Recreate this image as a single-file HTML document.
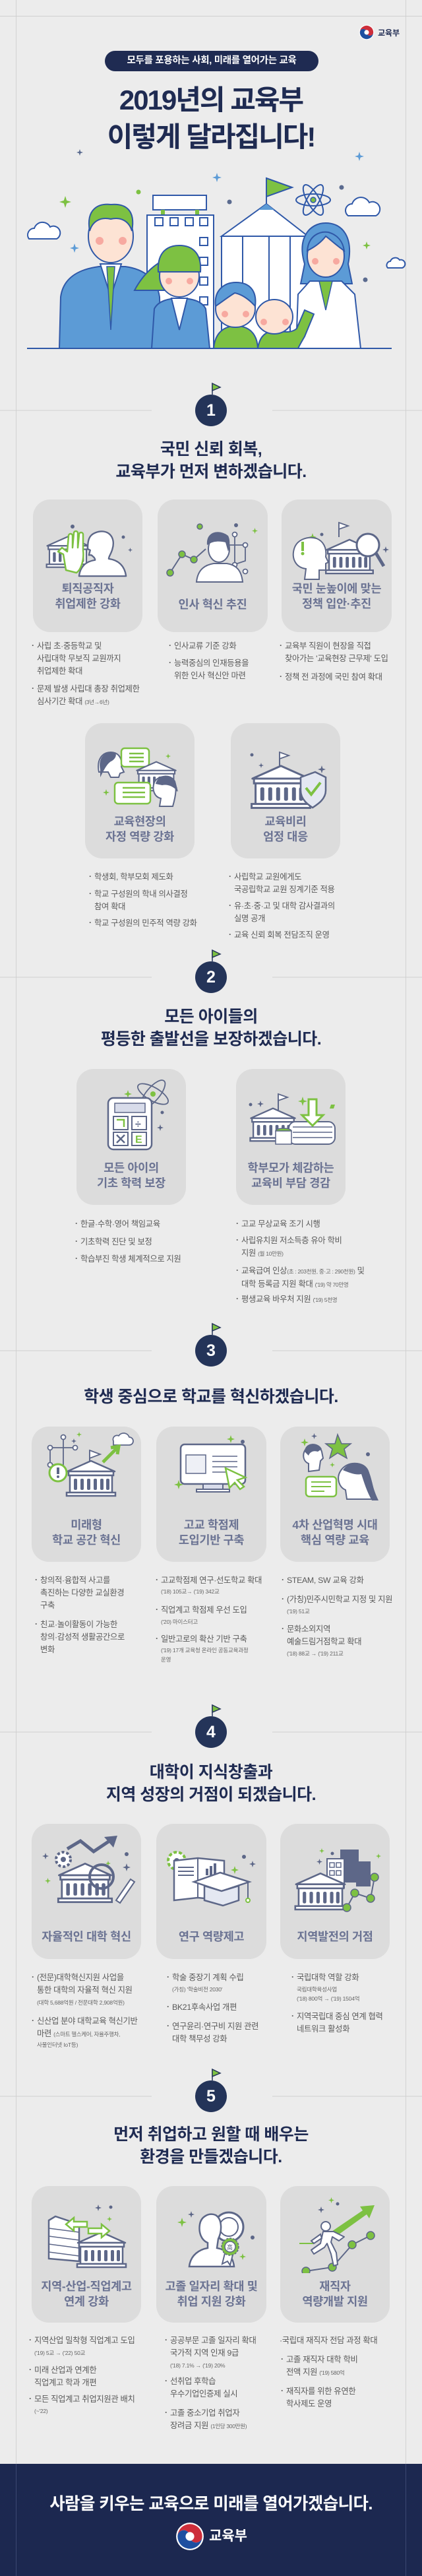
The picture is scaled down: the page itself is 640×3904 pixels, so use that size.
<!DOCTYPE html>
<html><head><meta charset="utf-8">
<style>
*{margin:0;padding:0;box-sizing:border-box}
body{width:640px;height:3904px;background:#ececec;position:relative;overflow:hidden;font-family:"Liberation Sans","Noto Sans CJK KR",sans-serif}
.a{position:absolute}
.vl{position:absolute;top:0;width:1px;height:3904px;background:#d2d2d2}
.hl{position:absolute;height:1px;background:#cfcfcf}
.st{position:absolute;left:0;width:640px;text-align:center;color:#1f2b52;font-weight:bold;font-size:25px;line-height:34px;letter-spacing:-0.5px}
.card{position:absolute;background:#dcdcdc;border-radius:26px}
.ct{position:absolute;text-align:center;color:#6b7393;font-weight:bold;font-size:17.5px;line-height:23px;letter-spacing:-0.3px}
.b{position:absolute;font-size:12.3px;line-height:19px;color:#5a5a5a;padding-left:8px;white-space:nowrap;letter-spacing:-0.3px}
.b::before{content:"·";position:absolute;left:0;top:-1px;font-weight:bold}
.nb::before{content:none}
.s{font-size:8.5px;color:#666;line-height:14px;white-space:nowrap;position:absolute;letter-spacing:-0.2px}
small{font-size:8.5px;color:#666}
.badge{position:absolute;left:296px;width:48px;height:48px;border-radius:50%;background:#243459;color:#fff;font-weight:bold;font-size:25px;line-height:48px;text-align:center}
.icon{position:absolute}
</style></head><body>
<svg width="0" height="0" style="position:absolute">
<defs>
<symbol id="bld" viewBox="0 0 80 60"><path d="M4 20 L40 4 L76 20 Z" fill="#fff" stroke="#5d6788" stroke-width="2.5" stroke-linejoin="round"/><rect x="6" y="20" width="68" height="6" fill="#fff" stroke="#5d6788" stroke-width="2.5"/><rect x="8" y="26" width="64" height="26" fill="#fff" stroke="#5d6788" stroke-width="2.5"/><g fill="#5d6788"><rect x="14" y="31" width="5" height="17" rx="2"/><rect x="24" y="31" width="5" height="17" rx="2"/><rect x="34" y="31" width="5" height="17" rx="2"/><rect x="44" y="31" width="5" height="17" rx="2"/><rect x="54" y="31" width="5" height="17" rx="2"/><rect x="63" y="31" width="5" height="17" rx="2"/></g><rect x="3" y="52" width="74" height="5" fill="#fff" stroke="#5d6788" stroke-width="2.5"/></symbol>
<symbol id="head" viewBox="0 0 80 80"><path d="M28 8 C48 0 62 14 56 34 C54 42 50 46 50 50 C66 52 76 62 78 78 L2 78 C4 62 14 54 28 52 C28 48 24 46 22 44 L18 44 L20 36 L16 34 C16 20 18 12 28 8 Z" fill="#fff" stroke="#5d6788" stroke-width="2.5" stroke-linejoin="round"/></symbol>
<symbol id="sp" viewBox="0 0 10 10"><path d="M5 0 L6.2 3.8 L10 5 L6.2 6.2 L5 10 L3.8 6.2 L0 5 L3.8 3.8 Z"/></symbol>
<symbol id="tg" viewBox="0 0 40 40"><circle cx="20" cy="20" r="19" fill="#fff"/><path d="M3 20 A17 17 0 0 1 37 20 A8.5 8.5 0 0 1 20 20 A8.5 8.5 0 0 0 3 20 Z" fill="#cd2e3a"/><path d="M3 20 A17 17 0 0 0 37 20 A8.5 8.5 0 0 1 20 20 A8.5 8.5 0 0 0 3 20 Z" fill="#1e4fa0"/><circle cx="20" cy="20" r="6" fill="#fff"/></symbol>
</defs></svg>

<!-- frame lines -->
<div class="vl" style="left:24px"></div>
<div class="vl" style="left:615px"></div>
<div class="hl" style="left:0;top:24px;width:640px"></div>

<!-- header logo -->
<svg class="a" style="left:544px;top:37px" width="24" height="24"><use href="#tg" width="24" height="24"/></svg>
<div class="a" style="left:573px;top:41px;font-size:12px;font-weight:bold;color:#1f2b52">교육부</div>

<div class="a" style="left:159px;top:77px;width:324px;height:31px;border-radius:16px;background:#1f2b52;color:#fff;font-weight:bold;font-size:14.5px;line-height:31px;text-align:center;letter-spacing:-0.3px">모두를 포용하는 사회, 미래를 열어가는 교육</div>
<div class="a" style="left:0;top:124px;width:640px;text-align:center;color:#1f2b52;font-weight:bold;font-size:42px;line-height:56px;letter-spacing:-2px">2019년의 교육부<br>이렇게 달라집니다!</div>

<!-- hero illustration -->
<svg class="a" style="left:0;top:0" width="640" height="540">
<g fill="#5b6b8f"><use href="#sp" x="116" y="226" width="10" height="10"/></g>
<g fill="#5c9bd6"><use href="#sp" x="538" y="230" width="14" height="14"/><use href="#sp" x="322" y="262" width="14" height="14"/><use href="#sp" x="106" y="369" width="14" height="14"/></g>
<g fill="#7dc142"><use href="#sp" x="90" y="297" width="18" height="18"/><use href="#sp" x="550" y="366" width="12" height="12"/></g>
<circle cx="210" cy="291" r="3.5" fill="#7dc142"/><circle cx="348" cy="306" r="3.5" fill="#5b6b8f"/><circle cx="518" cy="284" r="3.5" fill="#5b6b8f"/><circle cx="554" cy="424" r="3.5" fill="#5b6b8f"/>
<g fill="#fff" stroke="#2f58a8" stroke-width="2"><path d="M44 362 a10 10 0 0 1 8 -16 a13 13 0 0 1 24 -2 a10 10 0 0 1 10 18 Z"/><path d="M528 327 a10 10 0 0 1 6 -18 a14 14 0 0 1 26 -2 a11 11 0 0 1 10 20 Z"/><path d="M588 406 a6 6 0 0 1 4 -10 a8 8 0 0 1 14 -2 a6 6 0 0 1 4 12 Z"/></g>
<!-- building left -->
<rect x="232" y="296" width="81" height="22" fill="#fff" stroke="#2f58a8" stroke-width="2"/>
<rect x="244" y="318" width="6" height="8" fill="#7dc142"/><rect x="296" y="318" width="6" height="8" fill="#7dc142"/>
<rect x="223" y="326" width="101" height="202" fill="#fff" stroke="#2f58a8" stroke-width="2"/>
<g fill="none" stroke="#2f58a8" stroke-width="2"><rect x="235" y="330" width="12" height="12"/><rect x="258" y="330" width="12" height="12"/><rect x="281" y="330" width="12" height="12"/><rect x="303" y="330" width="12" height="12"/><rect x="303" y="360" width="12" height="12"/><rect x="303" y="390" width="12" height="12"/><rect x="303" y="420" width="12" height="12"/><rect x="303" y="450" width="12" height="12"/></g>
<!-- right building -->
<path d="M336 358 L404 309 L467 358 Z" fill="#fff" stroke="#2f58a8" stroke-width="2"/>
<path d="M392 318 L404 309 L416 318 Z" fill="#5c9bd6"/>
<rect x="336" y="358" width="131" height="170" fill="#fff" stroke="#2f58a8" stroke-width="2"/>
<g stroke="#2f58a8" stroke-width="2"><line x1="368" y1="358" x2="368" y2="528"/><line x1="408" y1="358" x2="408" y2="528"/><line x1="440" y1="358" x2="440" y2="528"/><line x1="404" y1="309" x2="404" y2="270"/></g>
<path d="M404 270 L443 284 L404 298 Z" fill="#7dc142" stroke="#2f58a8" stroke-width="2"/>
<g fill="none" stroke="#2f58a8" stroke-width="2"><ellipse cx="475" cy="303" rx="26" ry="9"/><ellipse cx="475" cy="303" rx="26" ry="9" transform="rotate(60 475 303)"/><ellipse cx="475" cy="303" rx="26" ry="9" transform="rotate(-60 475 303)"/></g><circle cx="475" cy="303" r="4" fill="#7dc142" stroke="#2f58a8" stroke-width="1.5"/>
<!-- woman -->
<path d="M462 400 C450 360 470 338 494 338 C520 338 536 360 528 400 L534 430 L456 430 Z" fill="#5c9bd6" stroke="#2f58a8" stroke-width="2"/>
<path d="M449 528 L452 446 L470 426 L518 426 L538 446 L547 528 Z" fill="#fff" stroke="#2f58a8" stroke-width="2"/>
<path d="M484 426 L494 470 L504 426 Z" fill="#7dc142" stroke="#2f58a8" stroke-width="1.5"/>
<ellipse cx="494" cy="388" rx="28" ry="32" fill="#fde3d4" stroke="#2f58a8" stroke-width="2"/>
<path d="M466 380 C468 356 486 350 498 352 C512 356 520 366 522 380 C510 372 500 362 494 358 C488 366 478 374 466 380Z" fill="#5c9bd6" stroke="#2f58a8" stroke-width="2"/>
<circle cx="478" cy="396" r="5" fill="#f7a9a0"/><circle cx="510" cy="396" r="5" fill="#f7a9a0"/>
<!-- man -->
<path d="M90 528 L92 450 C96 420 120 408 150 404 L190 404 C220 408 238 424 242 450 L244 528 Z" fill="#5c9bd6" stroke="#2f58a8" stroke-width="2"/>
<path d="M152 400 L168 450 L184 400 Z" fill="#fff" stroke="#2f58a8" stroke-width="2"/>
<path d="M162 404 L168 500 L174 404 Z" fill="#7dc142" stroke="#2f58a8" stroke-width="1.5"/>
<ellipse cx="168" cy="358" rx="34" ry="40" fill="#fde3d4" stroke="#2f58a8" stroke-width="2"/>
<path d="M136 350 C130 316 150 308 168 310 C190 308 206 318 200 350 C196 336 184 328 168 332 C152 328 140 336 136 350Z" fill="#7dc142" stroke="#2f58a8" stroke-width="2"/>
<circle cx="151" cy="365" r="6" fill="#f7a9a0"/><circle cx="186" cy="365" r="6" fill="#f7a9a0"/>
<!-- girl -->
<path d="M204 440 C220 410 240 398 252 392 L260 440 Z" fill="#7dc142" stroke="#2f58a8" stroke-width="2"/>
<path d="M230 528 L234 468 C240 456 256 452 272 452 C290 452 306 456 312 468 L318 528 Z" fill="#5c9bd6" stroke="#2f58a8" stroke-width="2"/>
<path d="M260 452 L272 500 L284 452 Z" fill="#fff" stroke="#2f58a8" stroke-width="2"/>
<ellipse cx="272" cy="418" rx="30" ry="32" fill="#fde3d4" stroke="#2f58a8" stroke-width="2"/>
<path d="M240 412 C238 380 256 372 272 372 C292 372 306 384 304 412 L240 412Z" fill="#7dc142" stroke="#2f58a8" stroke-width="2"/>
<circle cx="256" cy="426" r="5" fill="#f7a9a0"/><circle cx="288" cy="426" r="5" fill="#f7a9a0"/>
<!-- boy -->
<path d="M324 528 C326 504 340 494 358 494 C376 494 390 504 391 528 Z" fill="#7dc142" stroke="#2f58a8" stroke-width="2"/>
<ellipse cx="357" cy="468" rx="30" ry="28" fill="#fde3d4" stroke="#2f58a8" stroke-width="2"/>
<path d="M327 464 C324 440 340 428 358 428 C378 428 390 440 387 464 C376 452 366 446 356 444 C346 450 336 458 327 464Z" fill="#5c9bd6" stroke="#2f58a8" stroke-width="2"/>
<circle cx="341" cy="476" r="5" fill="#f7a9a0"/><circle cx="373" cy="476" r="5" fill="#f7a9a0"/>
<!-- baby -->
<path d="M391 528 C394 508 404 502 416 502 C430 502 440 506 450 498 L462 470 L476 476 L462 510 C456 520 452 528 452 528 Z" fill="#7dc142" stroke="#2f58a8" stroke-width="2"/>
<ellipse cx="416" cy="480" rx="28" ry="26" fill="#fde3d4" stroke="#2f58a8" stroke-width="2"/>
<circle cx="400" cy="488" r="5" fill="#f7a9a0"/><circle cx="433" cy="488" r="5" fill="#f7a9a0"/>
<line x1="41" y1="528" x2="594" y2="528" stroke="#2f58a8" stroke-width="2"/>
</svg>

<!-- badge helper lines & flags -->
<svg class="a" style="left:0;top:0" width="640" height="3904">
<g stroke="#cfcfcf" stroke-width="1">
<line x1="0" y1="622" x2="230" y2="622"/><line x1="413" y1="622" x2="640" y2="622"/>
<line x1="0" y1="1481" x2="230" y2="1481"/><line x1="413" y1="1481" x2="640" y2="1481"/>
<line x1="0" y1="2047" x2="230" y2="2047"/><line x1="413" y1="2047" x2="640" y2="2047"/>
<line x1="0" y1="2625" x2="230" y2="2625"/><line x1="413" y1="2625" x2="640" y2="2625"/>
<line x1="0" y1="3177" x2="230" y2="3177"/><line x1="413" y1="3177" x2="640" y2="3177"/>
</g>
<g stroke="#243459" stroke-width="1.5" fill="#7dc142">
<line x1="322" y1="598" x2="322" y2="581"/><path d="M322 581 L334 587 L322 592Z"/>
<line x1="322" y1="1457" x2="322" y2="1440"/><path d="M322 1440 L334 1446 L322 1451Z"/>
<line x1="322" y1="2023" x2="322" y2="2006"/><path d="M322 2006 L334 2012 L322 2017Z"/>
<line x1="322" y1="2601" x2="322" y2="2584"/><path d="M322 2584 L334 2590 L322 2595Z"/>
<line x1="322" y1="3153" x2="322" y2="3136"/><path d="M322 3136 L334 3142 L322 3147Z"/>
</g>
</svg>
<div class="badge" style="top:598px">1</div>
<div class="badge" style="top:1457px">2</div>
<div class="badge" style="top:2023px">3</div>
<div class="badge" style="top:2601px">4</div>
<div class="badge" style="top:3153px">5</div>

<!-- SECTION 1 -->
<div class="st" style="top:664px">국민 신뢰 회복,<br>교육부가 먼저 변하겠습니다.</div>
<div class="card" style="left:50px;top:757px;width:166px;height:201px"></div>
<div class="card" style="left:239px;top:757px;width:167px;height:201px"></div>
<div class="card" style="left:427px;top:757px;width:167px;height:201px"></div>
<svg class="icon" style="left:66px;top:790px" width="135" height="85">
<circle cx="44" cy="8" r="3" fill="#5d6788"/><circle cx="121" cy="24" r="2.5" fill="#5d6788"/><use href="#sp" x="128" y="40" width="7" height="7" fill="#5d6788"/>
<use href="#bld" x="2" y="18" width="70" height="56"/>
<use href="#head" x="52" y="10" width="75" height="75"/>
<path d="M34 74 L30 50 L22 46 L28 40 L36 46 L38 22 C38 18 44 18 44 22 L44 40 L46 18 C46 14 52 14 52 18 L52 40 L54 20 C54 16 60 16 60 20 L60 44 C62 60 56 74 50 78 Z" fill="#fff" stroke="#7dc142" stroke-width="2.5" stroke-linejoin="round"/>
</svg>
<svg class="icon" style="left:248px;top:790px" width="150" height="100">
<polyline points="10,78 28,50 46,58 64,42" fill="none" stroke="#5d6788" stroke-width="2"/>
<g fill="#7dc142" stroke="#5d6788" stroke-width="1.5"><circle cx="10" cy="78" r="5"/><circle cx="28" cy="50" r="5"/><circle cx="46" cy="58" r="5"/><circle cx="55" cy="8" r="4"/></g>
<g fill="#fff" stroke="#5d6788" stroke-width="1.8"><path d="M108 20 L108 80 M96 36 L124 36 M124 36 L124 60 L100 68" fill="none"/><circle cx="108" cy="20" r="3.5"/><circle cx="96" cy="36" r="3.5"/><circle cx="124" cy="36" r="3.5"/><circle cx="108" cy="66" r="3.5"/><circle cx="124" cy="76" r="3.5"/></g>
<path d="M50 92 C52 72 64 66 76 64 L96 64 C110 66 118 74 120 92 Z" fill="#fff" stroke="#5d6788" stroke-width="2"/>
<ellipse cx="84" cy="42" rx="16" ry="20" fill="#fff" stroke="#5d6788" stroke-width="2"/>
<path d="M66 36 C64 14 86 12 98 22 C102 30 100 40 98 46 L94 32 C86 30 76 30 70 34 Z" fill="#5d6788"/>
<use href="#sp" x="134" y="10" width="9" height="9" fill="#7dc142"/><circle cx="110" cy="6" r="3" fill="#5d6788"/>
</svg>
<svg class="icon" style="left:440px;top:786px" width="150" height="100">
<use href="#sp" x="28" y="22" width="12" height="12" fill="#7dc142"/><circle cx="48" cy="24" r="2.5" fill="#5d6788"/>
<line x1="74" y1="28" x2="74" y2="6" stroke="#5d6788" stroke-width="2"/><path d="M74 6 L88 11 L74 16Z" fill="#fff" stroke="#5d6788" stroke-width="1.8"/>
<use href="#bld" x="50" y="28" width="80" height="58"/>
<path d="M22 92 L24 76 C8 74 2 60 6 46 C10 32 26 26 40 30 C50 34 56 44 54 58 L58 66 L54 68 L54 78 L44 78 L44 92 Z" fill="#fff" stroke="#5d6788" stroke-width="2"/>
<rect x="17" y="35" width="4" height="14" fill="#7dc142"/><circle cx="19" cy="53" r="2.5" fill="#7dc142"/>
<circle cx="118" cy="40" r="17" fill="#fff" stroke="#5d6788" stroke-width="3"/><line x1="130" y1="52" x2="142" y2="72" stroke="#5d6788" stroke-width="5"/>
<use href="#sp" x="140" y="42" width="10" height="10" fill="#5d6788"/>
</svg>
<div class="ct" style="left:50px;width:166px;top:881px">퇴직공직자<br>취업제한 강화</div>
<div class="ct" style="left:239px;width:167px;top:905px">인사 혁신 추진</div>
<div class="ct" style="left:427px;width:167px;top:881px">국민 눈높이에 맞는<br>정책 입안·추진</div>
<div class="b" style="left:48px;top:970px">사립 초·중등학교 및<br>사립대학 무보직 교원까지<br>취업제한 확대</div>
<div class="b" style="left:48px;top:1035px">문제 발생 사립대 총장 취업제한<br>심사기간 확대 <small>(3년→6년)</small></div>
<div class="b" style="left:256px;top:970px">인사교류 기준 강화</div>
<div class="b" style="left:256px;top:996px">능력중심의 인재등용을<br>위한 인사 혁신안 마련</div>
<div class="b" style="left:424px;top:970px">교육부 직원이 현장을 직접<br>찾아가는 '교육현장 근무제' 도입</div>
<div class="b" style="left:424px;top:1017px">정책 전 과정에 국민 참여 확대</div>

<div class="card" style="left:129px;top:1096px;width:166px;height:205px"></div>
<div class="card" style="left:350px;top:1096px;width:166px;height:205px"></div>
<svg class="icon" style="left:146px;top:1130px" width="135" height="100">
<path d="M4 40 C0 20 10 10 22 10 C34 10 40 20 38 32 L42 40 L36 42 L34 48 L22 48 L18 40 Z" fill="#fff" stroke="#5d6788" stroke-width="2"/><path d="M6 36 C2 18 14 8 26 10 C34 12 28 22 22 24 C16 28 12 36 6 48Z" fill="#5d6788"/>
<rect x="38" y="4" width="42" height="28" rx="5" fill="#fff" stroke="#7dc142" stroke-width="2.5"/><g stroke="#7dc142" stroke-width="2.5"><line x1="50" y1="12" x2="72" y2="12"/><line x1="50" y1="18" x2="72" y2="18"/><line x1="50" y1="24" x2="72" y2="24"/></g>
<use href="#bld" x="58" y="20" width="66" height="52"/>
<rect x="28" y="56" width="54" height="32" rx="5" fill="#fff" stroke="#7dc142" stroke-width="2.5"/><g stroke="#7dc142" stroke-width="2.5"><line x1="40" y1="64" x2="74" y2="64"/><line x1="40" y1="71" x2="74" y2="71"/><line x1="40" y1="78" x2="74" y2="78"/></g>
<path d="M96 92 L98 80 C88 78 84 66 88 56 C92 46 108 44 116 52 C124 60 120 78 116 92Z" fill="#fff" stroke="#5d6788" stroke-width="2"/><path d="M90 58 C94 42 114 42 120 54 L124 70 C118 62 108 58 100 60Z" fill="#5d6788"/>
<use href="#sp" x="10" y="66" width="10" height="10" fill="#7dc142"/><use href="#sp" x="105" y="12" width="8" height="8" fill="#7dc142"/>
</svg>
<svg class="icon" style="left:370px;top:1126px" width="130" height="100">
<circle cx="12" cy="18" r="2.5" fill="#5d6788"/><use href="#sp" x="22" y="30" width="8" height="8" fill="#5d6788"/><use href="#sp" x="112" y="34" width="12" height="12" fill="#5d6788"/><use href="#sp" x="98" y="44" width="8" height="8" fill="#7dc142"/><use href="#sp" x="22" y="92" width="8" height="8" fill="#7dc142"/>
<line x1="54" y1="36" x2="54" y2="14" stroke="#5d6788" stroke-width="2"/><path d="M54 14 L68 19 L54 24Z" fill="#fff" stroke="#5d6788" stroke-width="1.8"/>
<use href="#bld" x="8" y="30" width="96" height="72"/>
<path d="M86 52 L108 44 L124 52 L124 72 C124 86 110 94 104 98 C98 94 86 86 86 72Z" fill="#e4e8f2" stroke="#5d6788" stroke-width="2.5"/><path d="M94 68 L102 78 L116 60" fill="none" stroke="#7dc142" stroke-width="4"/>
</svg>
<div class="ct" style="left:129px;width:166px;top:1234px">교육현장의<br>자정 역량 강화</div>
<div class="ct" style="left:350px;width:166px;top:1234px">교육비리<br>엄정 대응</div>
<div class="b" style="left:135px;top:1320px">학생회, 학부모회 제도화</div>
<div class="b" style="left:135px;top:1346px">학교 구성원의 학내 의사결정<br>참여 확대</div>
<div class="b" style="left:135px;top:1390px">학교 구성원의 민주적 역량 강화</div>
<div class="b" style="left:347px;top:1320px">사립학교 교원에게도<br>국공립학교 교원 징계기준 적용</div>
<div class="b" style="left:347px;top:1364px">유·초·중·고 및 대학 감사결과의<br>실명 공개</div>
<div class="b" style="left:347px;top:1408px">교육 신뢰 회복 전담조직 운영</div>

<!-- SECTION 2 -->
<div class="st" style="top:1524px">모든 아이들의<br>평등한 출발선을 보장하겠습니다.</div>
<div class="card" style="left:116px;top:1620px;width:166px;height:206px"></div>
<div class="card" style="left:358px;top:1620px;width:166px;height:206px"></div>
<svg class="icon" style="left:150px;top:1630px" width="110" height="120">
<use href="#sp" x="38" y="22" width="12" height="12" fill="#7dc142"/><use href="#sp" x="88" y="74" width="10" height="10" fill="#5d6788"/><circle cx="96" cy="56" r="2.5" fill="#5d6788"/>
<g fill="none" stroke="#5d6788" stroke-width="1.8"><ellipse cx="82" cy="28" rx="26" ry="10" transform="rotate(30 82 28)"/><ellipse cx="82" cy="28" rx="26" ry="10" transform="rotate(-50 82 28)"/></g><circle cx="82" cy="28" r="4" fill="#7dc142"/>
<rect x="14" y="34" width="66" height="78" rx="8" fill="#fff" stroke="#5d6788" stroke-width="2.5"/><rect x="24" y="42" width="46" height="14" fill="#d8dcea" stroke="#5d6788" stroke-width="1.5"/>
<g fill="#fff" stroke="#5d6788" stroke-width="2"><rect x="22" y="62" width="22" height="20"/><rect x="50" y="62" width="22" height="20"/><rect x="22" y="86" width="22" height="20"/><rect x="50" y="86" width="22" height="20"/></g>
<path d="M27 67 L38 67 L38 78" fill="none" stroke="#7dc142" stroke-width="2.5"/><path d="M27 90 L39 102 M39 90 L27 102" stroke="#5d6788" stroke-width="2.5"/><text x="55" y="102" font-family="Liberation Sans" font-weight="bold" font-size="16" fill="#7dc142">E</text><text x="55" y="79" font-family="Liberation Sans" font-weight="bold" font-size="16" fill="#5d6788">÷</text>
</svg>
<svg class="icon" style="left:372px;top:1640px" width="140" height="100">
<use href="#sp" x="18" y="28" width="10" height="10" fill="#5d6788"/><circle cx="8" cy="34" r="2.5" fill="#5d6788"/><use href="#sp" x="80" y="22" width="14" height="14" fill="#7dc142"/><path d="M130 34 l6 0 l-2 6 l-6 0 z" fill="#7dc142"/>
<line x1="50" y1="44" x2="50" y2="18" stroke="#5d6788" stroke-width="2"/><path d="M50 18 L64 23 L50 28Z" fill="#fff" stroke="#5d6788" stroke-width="1.8"/>
<use href="#bld" x="4" y="36" width="76" height="56"/>
<rect x="66" y="60" width="70" height="34" rx="10" fill="#fff" stroke="#5d6788" stroke-width="2"/><g stroke="#5d6788" stroke-width="1.5"><line x1="72" y1="68" x2="132" y2="68"/><line x1="72" y1="76" x2="132" y2="76"/><line x1="72" y1="84" x2="132" y2="84"/></g>
<ellipse cx="58" cy="74" rx="12" ry="4" fill="#7dc142" stroke="#5d6788" stroke-width="1.5"/><rect x="46" y="74" width="24" height="20" fill="#fff" stroke="#5d6788" stroke-width="1.5"/>
<path d="M96 26 L108 26 L108 50 L118 50 L102 66 L86 50 L96 50Z" fill="#fff" stroke="#7dc142" stroke-width="3"/>
</svg>
<div class="ct" style="left:116px;width:166px;top:1759px">모든 아이의<br>기초 학력 보장</div>
<div class="ct" style="left:358px;width:166px;top:1759px">학부모가 체감하는<br>교육비 부담 경감</div>
<div class="b" style="left:114px;top:1846px">한글·수학·영어 책임교육</div>
<div class="b" style="left:114px;top:1873px">기초학력 진단 및 보정</div>
<div class="b" style="left:114px;top:1899px">학습부진 학생 체계적으로 지원</div>
<div class="b" style="left:358px;top:1846px">고교 무상교육 조기 시행</div>
<div class="b" style="left:358px;top:1871px">사립유치원 저소득층 유아 학비<br>지원 <small>(월 10만원)</small></div>
<div class="b" style="left:358px;top:1917px">교육급여 인상<small>(초 : 203천원, 중·고 : 290천원)</small> 및<br>대학 등록금 지원 확대 <small>('19) 약 70만명</small></div>
<div class="b" style="left:358px;top:1960px">평생교육 바우처 지원 <small>('19) 5천명</small></div>

<!-- SECTION 3 -->
<div class="st" style="top:2100px">학생 중심으로 학교를 혁신하겠습니다.</div>
<div class="card" style="left:48px;top:2162px;width:166px;height:205px"></div>
<div class="card" style="left:237px;top:2162px;width:167px;height:205px"></div>
<div class="card" style="left:425px;top:2162px;width:166px;height:205px"></div>
<svg class="icon" style="left:68px;top:2170px" width="135" height="100">
<g fill="none" stroke="#5d6788" stroke-width="1.8"><path d="M28 8 L28 60 M8 24 L46 24 M8 24 L8 50 L20 50"/></g><g fill="#fff" stroke="#5d6788" stroke-width="1.8"><circle cx="28" cy="8" r="3.5"/><circle cx="8" cy="24" r="3.5"/><circle cx="46" cy="24" r="3.5"/><circle cx="8" cy="50" r="3.5"/></g>
<use href="#sp" x="48" y="0" width="8" height="8" fill="#7dc142"/><use href="#sp" x="40" y="10" width="8" height="8" fill="#5d6788"/>
<path d="M104 14 a6 6 0 0 1 8 -8 a9 9 0 0 1 16 2 a6 6 0 0 1 0 12 L104 20 Z" fill="#fff" stroke="#5d6788" stroke-width="1.8"/>
<line x1="68" y1="50" x2="68" y2="28" stroke="#5d6788" stroke-width="2"/><path d="M68 28 L84 34 L68 40Z" fill="#fff" stroke="#5d6788" stroke-width="1.8"/>
<path d="M88 46 L110 24 M100 24 L112 22 L110 34" fill="none" stroke="#7dc142" stroke-width="5"/>
<use href="#bld" x="24" y="40" width="92" height="60"/>
<circle cx="20" cy="62" r="13" fill="#fff" stroke="#7dc142" stroke-width="3"/><rect x="18" y="54" width="4" height="10" fill="#5d6788"/><circle cx="20" cy="68" r="2" fill="#5d6788"/>
</svg>
<svg class="icon" style="left:260px;top:2175px" width="130" height="90">
<use href="#sp" x="84" y="0" width="12" height="12" fill="#7dc142"/><circle cx="108" cy="10" r="3" fill="#5d6788"/><use href="#sp" x="4" y="68" width="14" height="14" fill="#7dc142"/>
<rect x="14" y="14" width="98" height="60" rx="6" fill="#fff" stroke="#5d6788" stroke-width="2.5"/><rect x="48" y="74" width="30" height="8" fill="#d8dcea" stroke="#5d6788" stroke-width="2"/><rect x="38" y="82" width="50" height="4" fill="#fff" stroke="#5d6788" stroke-width="2"/>
<rect x="22" y="30" width="30" height="28" fill="#eef0f6" stroke="#5d6788" stroke-width="1.5"/><g stroke="#5d6788" stroke-width="1.5"><line x1="62" y1="32" x2="100" y2="32"/><line x1="62" y1="40" x2="100" y2="40"/><line x1="62" y1="48" x2="100" y2="48"/><line x1="62" y1="56" x2="90" y2="56"/></g>
<path d="M82 50 L112 64 L100 68 L110 78 L104 82 L96 72 L88 80Z" fill="#fff" stroke="#7dc142" stroke-width="2.5"/>
</svg>
<svg class="icon" style="left:452px;top:2170px" width="130" height="105">
<use href="#sp" x="4" y="10" width="12" height="12" fill="#7dc142"/><use href="#sp" x="20" y="2" width="9" height="9" fill="#5d6788"/><path d="M60 4 L66 18 L80 18 L70 26 L74 40 L60 32 L48 40 L52 26 L42 18 L56 18Z" fill="#7dc142" stroke="#5d6788" stroke-width="1.5"/><circle cx="106" cy="34" r="3" fill="#5d6788"/><use href="#sp" x="48" y="46" width="8" height="8" fill="#7dc142"/>
<path d="M16 60 L16 48 C6 44 6 30 14 24 C22 18 34 22 36 30 L38 40 L34 44 L32 58Z" fill="#fff" stroke="#5d6788" stroke-width="2"/><path d="M10 30 C10 16 30 14 36 26 L30 30 C24 28 18 30 16 36Z" fill="#5d6788"/>
<rect x="12" y="68" width="46" height="30" rx="5" fill="#fff" stroke="#7dc142" stroke-width="2.5"/><g stroke="#7dc142" stroke-width="2"><line x1="20" y1="76" x2="50" y2="76"/><line x1="20" y1="83" x2="50" y2="83"/><line x1="20" y1="90" x2="40" y2="90"/></g>
<path d="M74 102 L72 88 C62 84 58 70 64 60 C72 46 92 44 102 54 C110 62 112 84 118 102Z" fill="#fff" stroke="#5d6788" stroke-width="2"/><path d="M68 58 C78 42 104 44 108 62 C112 78 116 92 122 104 L112 104 C104 90 100 76 96 64 C88 66 78 62 68 58Z" fill="#5d6788"/>
</svg>
<div class="ct" style="left:48px;width:166px;top:2300px">미래형<br>학교 공간 혁신</div>
<div class="ct" style="left:237px;width:167px;top:2300px">고교 학점제<br>도입기반 구축</div>
<div class="ct" style="left:425px;width:166px;top:2300px">4차 산업혁명 시대<br>핵심 역량 교육</div>
<div class="b" style="left:53px;top:2386px">창의적·융합적 사고를<br>촉진하는 다양한 교실환경<br>구축</div>
<div class="b" style="left:53px;top:2453px">친교·놀이활동이 가능한<br>창의·감성적 생활공간으로<br>변화</div>
<div class="b" style="left:236px;top:2386px">고교학점제 연구·선도학교 확대</div>
<div class="s" style="left:244px;top:2405px">('18) 105교→ ('19) 342교</div>
<div class="b" style="left:236px;top:2431px">직업계고 학점제 우선 도입</div>
<div class="s" style="left:244px;top:2451px">('20) 마이스터고</div>
<div class="b" style="left:236px;top:2475px">일반고로의 확산 기반 구축</div>
<div class="s" style="left:244px;top:2494px">('19) 17개 교육청 온라인 공동교육과정<br>운영</div>
<div class="b" style="left:427px;top:2386px">STEAM, SW 교육 강화</div>
<div class="b" style="left:427px;top:2415px">(가칭)민주시민학교 지정 및 지원</div>
<div class="s" style="left:435px;top:2435px">('19) 51교</div>
<div class="b" style="left:427px;top:2460px">문화소외지역<br>예술드림거점학교 확대</div>
<div class="s" style="left:435px;top:2499px">('18) 88교 → ('19) 211교</div>

<!-- SECTION 4 -->
<div class="st" style="top:2669px">대학이 지식창출과<br>지역 성장의 거점이 되겠습니다.</div>
<div class="card" style="left:48px;top:2764px;width:166px;height:205px"></div>
<div class="card" style="left:237px;top:2764px;width:167px;height:205px"></div>
<div class="card" style="left:425px;top:2764px;width:166px;height:205px"></div>
<svg class="icon" style="left:62px;top:2780px" width="145" height="110">
<use href="#sp" x="2" y="28" width="10" height="10" fill="#5d6788"/><use href="#sp" x="6" y="66" width="9" height="9" fill="#7dc142"/><use href="#sp" x="98" y="40" width="8" height="8" fill="#7dc142"/><circle cx="130" cy="30" r="3" fill="#5d6788"/><use href="#sp" x="124" y="44" width="12" height="12" fill="#5d6788"/>
<path d="M40 22 L60 10 L80 26 L104 10" fill="none" stroke="#5d6788" stroke-width="5"/><path d="M96 4 L116 2 L110 20Z" fill="#5d6788"/>
<circle cx="34" cy="38" r="11" fill="#fff" stroke="#5d6788" stroke-width="4" stroke-dasharray="4 3"/><circle cx="34" cy="38" r="4" fill="#5d6788"/>
<use href="#bld" x="18" y="40" width="98" height="66"/>
<circle cx="92" cy="64" r="18" fill="none" stroke="#5d6788" stroke-width="4"/><path d="M120 104 L142 72 L136 68 L114 100Z" fill="#fff" stroke="#5d6788" stroke-width="2"/>
</svg>
<svg class="icon" style="left:250px;top:2800px" width="145" height="95">
<circle cx="18" cy="20" r="13" fill="#fff" stroke="#7dc142" stroke-width="4" stroke-dasharray="5 3"/><circle cx="18" cy="20" r="4" fill="#5d6788"/>
<circle cx="120" cy="14" r="3" fill="#5d6788"/><use href="#sp" x="128" y="20" width="10" height="10" fill="#5d6788"/><use href="#sp" x="100" y="28" width="12" height="12" fill="#7dc142"/>
<path d="M14 20 L14 80 L50 76 L90 80 L90 20 L50 16 L14 20Z" fill="#fff" stroke="#5d6788" stroke-width="2.5"/><line x1="50" y1="16" x2="50" y2="76" stroke="#5d6788" stroke-width="2"/>
<g stroke="#5d6788" stroke-width="2"><line x1="20" y1="30" x2="44" y2="30"/><line x1="20" y1="36" x2="44" y2="36"/><line x1="20" y1="42" x2="44" y2="42"/></g><g fill="#5d6788"><rect x="62" y="32" width="4" height="10"/><rect x="68" y="28" width="4" height="14"/><rect x="74" y="24" width="4" height="18"/></g>
<path d="M44 52 L84 38 L128 52 L86 66Z" fill="#fff" stroke="#5d6788" stroke-width="2.5"/><path d="M60 58 L60 80 L88 88 L112 80 L112 58 L86 66Z" fill="#e4e8f2" stroke="#5d6788" stroke-width="2.5"/><line x1="126" y1="52" x2="126" y2="78" stroke="#5d6788" stroke-width="2"/><circle cx="126" cy="80" r="3" fill="#fff" stroke="#7dc142" stroke-width="2"/>
</svg>
<svg class="icon" style="left:440px;top:2795px" width="145" height="105">
<use href="#sp" x="44" y="6" width="8" height="8" fill="#7dc142"/><circle cx="64" cy="14" r="2.5" fill="#5d6788"/><use href="#sp" x="40" y="22" width="9" height="9" fill="#5d6788"/><use href="#sp" x="130" y="14" width="8" height="8" fill="#7dc142"/>
<rect x="76" y="8" width="28" height="50" fill="#5d6788"/><rect x="100" y="26" width="22" height="38" fill="#5d6788"/><g fill="#fff" stroke="#5d6788" stroke-width="2"><rect x="56" y="22" width="26" height="44"/></g><g fill="#fff" stroke="#5d6788" stroke-width="1.5"><rect x="60" y="28" width="7" height="7"/><rect x="70" y="28" width="7" height="7"/><rect x="60" y="40" width="7" height="7"/><rect x="70" y="40" width="7" height="7"/></g>
<use href="#bld" x="2" y="40" width="88" height="62"/>
<polyline points="86,96 98,74 122,82 128,50" fill="none" stroke="#5d6788" stroke-width="2"/><g fill="#7dc142" stroke="#5d6788" stroke-width="1.5"><circle cx="86" cy="96" r="6"/><circle cx="98" cy="74" r="6"/><circle cx="122" cy="82" r="6"/><circle cx="128" cy="50" r="6"/></g>
</svg>
<div class="ct" style="left:48px;width:166px;top:2924px">자율적인 대학 혁신</div>
<div class="ct" style="left:237px;width:167px;top:2924px">연구 역량제고</div>
<div class="ct" style="left:425px;width:166px;top:2924px">지역발전의 거점</div>
<div class="b" style="left:48px;top:2988px">(전문)대학혁신지원 사업을<br>통한 대학의 자율적 혁신 지원</div>
<div class="s" style="left:56px;top:3028px">(대학 5,688억원 / 전문대학 2,908억원)</div>
<div class="b" style="left:48px;top:3054px">신산업 분야 대학교육 혁신기반<br>마련 <small>(스마트 헬스케어, 자율주행차,</small></div>
<div class="s" style="left:56px;top:3092px">사물인터넷 IoT등)</div>
<div class="b" style="left:253px;top:2988px">학술 중장기 계획 수립</div>
<div class="s" style="left:261px;top:3008px">(가칭) '학술비전 2030'</div>
<div class="b" style="left:253px;top:3033px">BK21후속사업 개편</div>
<div class="b" style="left:253px;top:3062px">연구윤리·연구비 지원 관련<br>대학 책무성 강화</div>
<div class="b" style="left:442px;top:2988px">국립대학 역할 강화</div>
<div class="s" style="left:450px;top:3008px">국립대학육성사업<br>('18) 800억 → ('19) 1504억</div>
<div class="b" style="left:442px;top:3047px">지역국립대 중심 연계 협력<br>네트워크 활성화</div>

<!-- SECTION 5 -->
<div class="st" style="top:3218px">먼저 취업하고 원할 때 배우는<br>환경을 만들겠습니다.</div>
<div class="card" style="left:48px;top:3313px;width:166px;height:207px"></div>
<div class="card" style="left:237px;top:3313px;width:167px;height:207px"></div>
<div class="card" style="left:425px;top:3313px;width:166px;height:207px"></div>
<svg class="icon" style="left:70px;top:3335px" width="130" height="105">
<use href="#sp" x="74" y="6" width="10" height="10" fill="#5d6788"/><circle cx="98" cy="10" r="2.5" fill="#5d6788"/><use href="#sp" x="92" y="24" width="8" height="8" fill="#7dc142"/>
<path d="M4 30 L14 24 L50 36 L50 92 L4 88Z" fill="#fff" stroke="#5d6788" stroke-width="2.5"/><g stroke="#5d6788" stroke-width="1.5"><line x1="4" y1="42" x2="50" y2="48"/><line x1="4" y1="54" x2="50" y2="60"/><line x1="4" y1="66" x2="50" y2="72"/><line x1="4" y1="78" x2="50" y2="84"/></g>
<use href="#bld" x="44" y="44" width="80" height="60"/>
<path d="M30 36 L42 26 L42 32 L62 32 L62 40 L42 40 L42 46Z" fill="#fff" stroke="#7dc142" stroke-width="2.5"/><path d="M88 46 L76 36 L76 42 L56 42 L56 50 L76 50 L76 56Z" fill="#fff" stroke="#7dc142" stroke-width="2.5" transform="translate(8 0)"/>
</svg>
<svg class="icon" style="left:265px;top:3335px" width="130" height="110">
<use href="#sp" x="4" y="26" width="14" height="14" fill="#7dc142"/><use href="#sp" x="20" y="16" width="10" height="10" fill="#5d6788"/><circle cx="118" cy="56" r="3" fill="#5d6788"/><use href="#sp" x="98" y="80" width="10" height="10" fill="#7dc142"/>
<circle cx="82" cy="40" r="22" fill="#fff" stroke="#5d6788" stroke-width="3"/><circle cx="82" cy="40" r="14" fill="none" stroke="#5d6788" stroke-width="2"/>
<path d="M22 100 C24 82 38 74 50 72 L50 64 C40 60 36 48 38 36 C40 24 52 18 62 22 C72 28 72 46 66 58 L64 72 C76 74 88 82 90 100Z" fill="#fff" stroke="#5d6788" stroke-width="2.5"/>
<path d="M78 72 L72 96 L80 92 L84 98 L90 74Z" fill="#fff" stroke="#5d6788" stroke-width="2"/>
<circle cx="84" cy="70" r="13" fill="#7dc142" stroke="#5d6788" stroke-width="1.5" stroke-dasharray="3 2"/><circle cx="84" cy="70" r="8" fill="#fff" stroke="#5d6788" stroke-width="1.5"/><text x="79" y="74" font-size="9" fill="#5d6788" font-family="Noto Sans CJK KR">高</text>
</svg>
<svg class="icon" style="left:450px;top:3330px" width="135" height="115">
<use href="#sp" x="48" y="0" width="9" height="9" fill="#7dc142"/><circle cx="62" cy="10" r="2.5" fill="#5d6788"/><use href="#sp" x="32" y="14" width="10" height="10" fill="#5d6788"/>
<path d="M50 54 L100 20 L96 14 L118 12 L110 32 L106 26 L56 62Z" fill="#7dc142"/>
<polyline points="14,112 54,106 84,72 112,58" fill="none" stroke="#5d6788" stroke-width="2"/><g fill="#7dc142" stroke="#5d6788" stroke-width="1.5"><circle cx="14" cy="112" r="6"/><circle cx="54" cy="106" r="6"/><circle cx="84" cy="72" r="6"/><circle cx="112" cy="58" r="6"/></g>
<path d="M4 70 L26 70" stroke="#7dc142" stroke-width="2"/>
<circle cx="44" cy="44" r="7" fill="#fff" stroke="#5d6788" stroke-width="2"/>
<path d="M40 52 L36 70 L22 80 L26 86 L42 76 L46 70 L52 86 L56 104 L62 102 L60 84 L52 68 L54 60 L64 66 L72 60 L56 52Z" fill="#fff" stroke="#5d6788" stroke-width="2" stroke-linejoin="round"/>
<path d="M36 56 L22 66 L26 70 L38 62Z" fill="#fff" stroke="#5d6788" stroke-width="2"/>
</svg>
<div class="ct" style="left:48px;width:166px;top:3454px">지역-산업-직업계고<br>연계 강화</div>
<div class="ct" style="left:237px;width:167px;top:3454px">고졸 일자리 확대 및<br>취업 지원 강화</div>
<div class="ct" style="left:425px;width:166px;top:3454px">재직자<br>역량개발 지원</div>
<div class="b" style="left:44px;top:3538px">지역산업 밀착형 직업계고 도입</div>
<div class="s" style="left:52px;top:3559px">('19) 5교 → ('22) 50교</div>
<div class="b" style="left:44px;top:3583px">미래 산업과 연계한<br>직업계고 학과 개편</div>
<div class="b" style="left:44px;top:3627px">모든 직업계고 취업지원관 배치</div>
<div class="s" style="left:52px;top:3647px">(~'22)</div>
<div class="b" style="left:250px;top:3538px">공공부문 고졸 일자리 확대<br>국가적 지역 인재 9급</div>
<div class="s" style="left:258px;top:3578px">('18) 7.1% → ('19) 20%</div>
<div class="b" style="left:250px;top:3600px">선취업 후학습<br>우수기업인증제 실시</div>
<div class="b" style="left:250px;top:3648px">고졸 중소기업 취업자<br>장려금 지원 <small>(1인당 300만원)</small></div>
<div class="b nb" style="left:424px;top:3538px;padding-left:0">·국립대 재직자 전담 과정 확대</div>
<div class="b" style="left:426px;top:3567px">고졸 재직자 대학 학비<br>전액 지원 <small>('19) 580억</small></div>
<div class="b" style="left:426px;top:3615px">재직자를 위한 유연한<br>학사제도 운영</div>

<!-- FOOTER -->
<div class="a" style="left:0;top:3734px;width:640px;height:170px;background:#1c2850"></div>
<div class="a" style="left:24px;top:3734px;width:1px;height:170px;background:#3c4872"></div>
<div class="a" style="left:615px;top:3734px;width:1px;height:170px;background:#3c4872"></div>
<div class="a" style="left:0;top:3779px;width:640px;text-align:center;color:#fff;font-weight:bold;font-size:25.5px;line-height:32px;letter-spacing:-0.6px">사람을 키우는 교육으로 미래를 열어가겠습니다.</div>
<svg class="a" style="left:266px;top:3822px" width="44" height="44"><use href="#tg" width="44" height="44"/></svg>
<div class="a" style="left:317px;top:3830px;color:#fff;font-weight:bold;font-size:21px;line-height:28px">교육부</div>
</body></html>
